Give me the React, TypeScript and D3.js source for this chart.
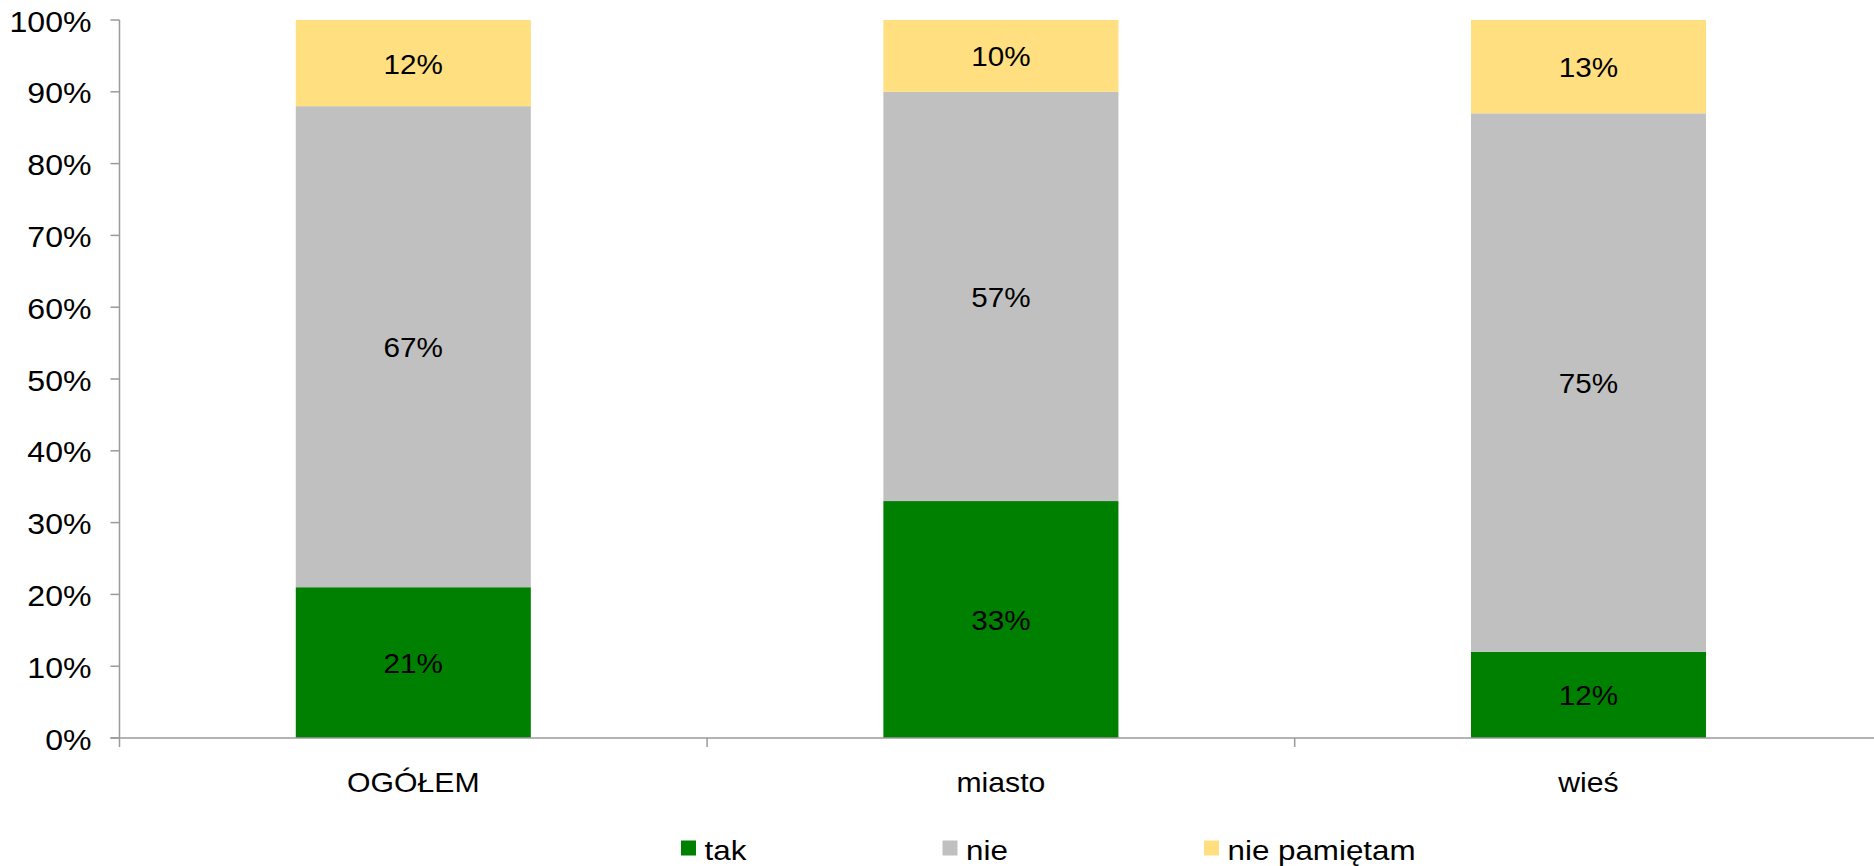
import React from "react";
import * as d3 from "d3";

const categories = ["OGÓŁEM", "miasto", "wieś"];
const seriesNames = ["tak", "nie", "nie pamiętam"];
const tak = [21, 33, 12];
const nie = [67, 57, 75];
const niePamietam = [12, 10, 13];
const yTicks = [0, 10, 20, 30, 40, 50, 60, 70, 80, 90, 100];
const colors = ["#008000", "#C0C0C0", "#FFDF7F"];

const W = 1874;
const H = 866;
const FONT = "'Liberation Sans', Arial, sans-serif";

function T({ x, y, anchor, fs = 28.5, sx = 1.09, children }: { x: number; y: number; anchor: string; fs?: number; sx?: number; children: any }) {
  return (
    <text
      transform={`translate(${x},${y}) scale(${sx},1)`}
      textAnchor={anchor}
      fontFamily={FONT}
      fontSize={fs}
      fill="#000"
    >
      {children}
    </text>
  );
}

export default function App() {
  const left = 119.5;
  const step = 587.6;
  const top = 20;
  const bottom = 738;

  const x = d3
    .scaleBand<string>()
    .domain(categories)
    .range([left, left + step * categories.length])
    .paddingInner(0.6)
    .paddingOuter(0.3);
  const y = d3.scaleLinear().domain([0, 100]).range([bottom, top]);

  const rows = categories.map((c, i) => ({
    cat: c,
    tak: tak[i],
    nie: nie[i],
    np: niePamietam[i],
  }));
  const keys = ["tak", "nie", "np"];
  const stacked = d3.stack<any>().keys(keys)(rows);

  const axisColor = "#9a9a9a";
  const legendX = [681, 942.5, 1204];

  return (
    <svg width={W} height={H} style={{ position: "absolute", left: 0, top: 0, background: "#fff" }}>
      {/* bars */}
      {stacked.map((layer, li) =>
        layer.map((d, i) => {
          const x0 = x(rows[i].cat)!;
          const y0 = y(d[1]);
          const y1 = y(d[0]);
          return (
            <g key={`${li}-${i}`}>
              <rect x={x0} y={y0} width={x.bandwidth()} height={y1 - y0} fill={colors[li]} />
              <T x={x0 + x.bandwidth() / 2} y={(y0 + y1) / 2 + 10.5} anchor="middle" fs={28} sx={1.06}>
                {`${d[1] - d[0]}%`}
              </T>
            </g>
          );
        })
      )}

      {/* y axis */}
      <line x1={left} x2={left} y1={top} y2={bottom + 9} stroke={axisColor} strokeWidth={1.5} />
      {yTicks.map((t) => (
        <g key={t}>
          <line x1={left - 9} x2={left} y1={y(t)} y2={y(t)} stroke={axisColor} strokeWidth={1.5} />
          <T x={91.5} y={y(t) + 11.5} anchor="end" fs={30} sx={1.07}>{`${t}%`}</T>
        </g>
      ))}

      {/* x axis */}
      <line x1={left - 9} x2={W} y1={bottom} y2={bottom} stroke={axisColor} strokeWidth={1.5} />
      {categories.slice(1).map((c) => {
        const xb = x(c)! - (x.step() * x.paddingInner()) / 2;
        return <line key={c} x1={xb} x2={xb} y1={bottom} y2={bottom + 9} stroke={axisColor} strokeWidth={1.5} />;
      })}
      {categories.map((c) => (
        <T key={c} x={x(c)! + x.bandwidth() / 2} y={791.5} anchor="middle" fs={28.5} sx={1.06}>
          {c}
        </T>
      ))}

      {/* legend */}
      {seriesNames.map((s, i) => (
        <g key={s}>
          <rect x={legendX[i]} y={840.5} width={15} height={15} fill={colors[i]} />
          <T x={legendX[i] + 23.5} y={859.5} anchor="start" fs={28.5} sx={1.1}>{s}</T>
        </g>
      ))}
    </svg>
  );
}
